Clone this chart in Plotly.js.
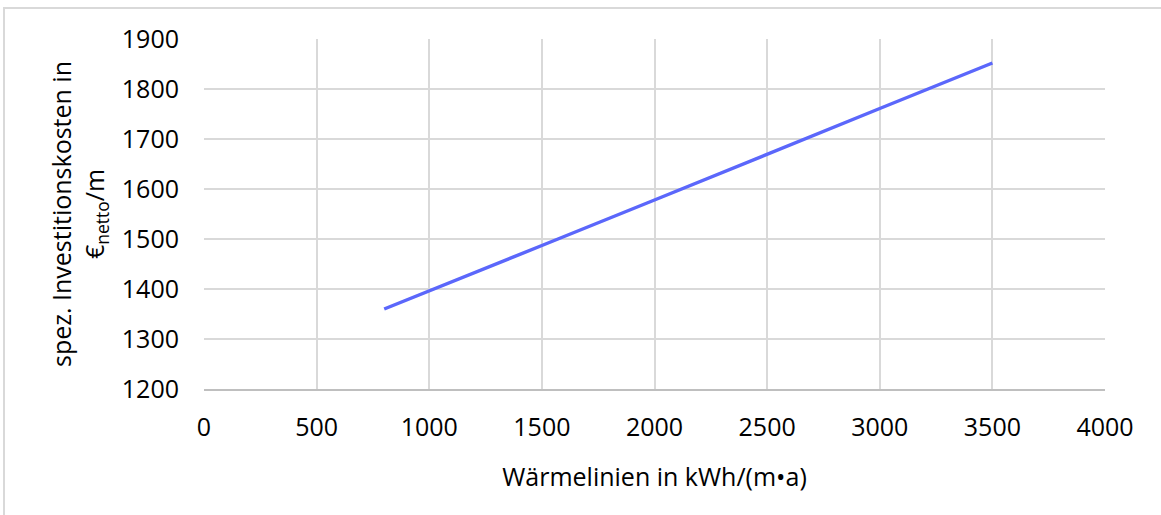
<!DOCTYPE html>
<html>
<head>
<meta charset="utf-8">
<script src="https://cdn.plot.ly/plotly-3.0.1.min.js"></script>
<style>
html,body{margin:0;padding:0;background:#fff;}
#frame{position:absolute;left:3px;top:7px;width:1200px;height:600px;border-top:2px solid #d9d9d9;border-left:2px solid #d9d9d9;pointer-events:none;}
#chart{width:1161px;height:515px;}
</style>
</head>
<body>
<div id="chart"></div>
<div id="frame"></div>
<script>
var waermelinien = [800, 1000, 1500, 2000, 2500, 3000, 3500];
var kosten = [1360, 1396, 1487, 1578, 1670, 1761, 1852];
var xTicks = [0, 500, 1000, 1500, 2000, 2500, 3000, 3500, 4000];
var yTicks = [1200, 1300, 1400, 1500, 1600, 1700, 1800, 1900];
var xTitle = 'Wärmelinien in kWh/(m•a)';
var yTitle = 'spez. Investitionskosten in<br>€<sub>netto</sub>/m';

var font = {family: 'Open Sans, sans-serif', size: 25, color: '#000'};

Plotly.newPlot('chart', [{
  x: waermelinien, y: kosten, type: 'scatter', mode: 'lines',
  line: {color: '#5b67fb', width: 3.5}, hoverinfo: 'none'
}], {
  width: 1161, height: 515,
  margin: {l: 204, r: 56, t: 39, b: 126},
  paper_bgcolor: '#fff', plot_bgcolor: '#fff',
  font: font,
  showlegend: false,
  xaxis: {
    range: [0, 4000], tickvals: xTicks, ticktext: xTicks.map(String),
    showgrid: true, gridcolor: '#d9d9d9', gridwidth: 2,
    zeroline: false, showline: true, linecolor: '#bfbfbf', linewidth: 2,
    ticks: '', ticklabelstandoff: 15, tickfont: font,
    title: {text: xTitle, font: font, standoff: 26}
  },
  yaxis: {
    range: [1200, 1900], tickvals: yTicks, ticktext: yTicks.map(String),
    showgrid: true, gridcolor: '#d9d9d9', gridwidth: 2,
    zeroline: false, showline: false,
    ticks: '', ticklabelstandoff: 24, tickfont: font,
    title: {text: yTitle, font: font, standoff: 10}
  }
}, {staticPlot: true, displayModeBar: false});
</script>
</body>
</html>
